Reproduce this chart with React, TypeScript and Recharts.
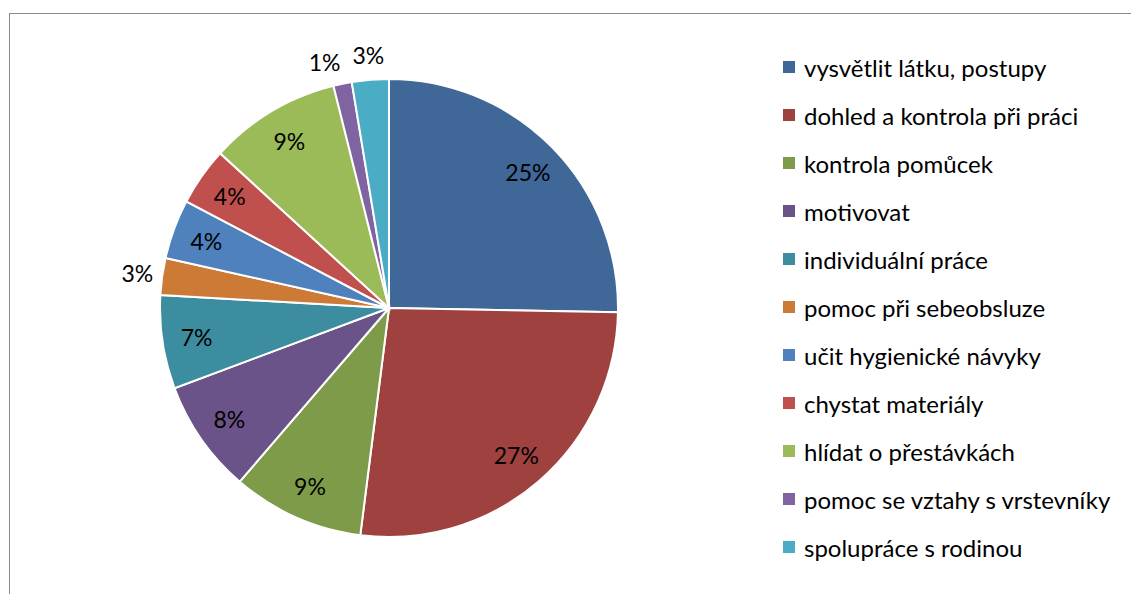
import { PieChart, Pie, Cell } from "recharts";

const categories = [
  "vysvětlit látku, postupy",
  "dohled a kontrola při práci",
  "kontrola pomůcek",
  "motivovat",
  "individuální práce",
  "pomoc při sebeobsluze",
  "učit hygienické návyky",
  "chystat materiály",
  "hlídat o přestávkách",
  "pomoc se vztahy s vrstevníky",
  "spolupráce s rodinou",
];

const shares = [25.3, 26.7, 9.3, 8.0, 6.6, 2.6, 4.2, 4.1, 9.3, 1.3, 2.6];

const colors = [
  "#3F6797",
  "#9E413F",
  "#7E9B49",
  "#6A5388",
  "#3D8DA1",
  "#CD7A37",
  "#4F81BD",
  "#C0504D",
  "#9BBB59",
  "#8064A2",
  "#4BACC6",
];

const data = categories.map((name, i) => ({ name, value: shares[i] }));

const FONT = "Lato, 'Open Sans', sans-serif";
const RAD = Math.PI / 180;

const renderLabel = (props: any) => {
  const { cx, cy, midAngle, outerRadius, percent, index } = props;
  const small = percent < 0.03;
  // outside labels: nudge one away if the next slice also sits outside
  const nextSmall = shares[index + 1] !== undefined && shares[index + 1] < 3;
  const angle = small && nextSmall ? midAngle + 3 : midAngle;
  const r = small ? outerRadius + 25 : outerRadius * 0.85;
  const x = cx + r * Math.cos(-angle * RAD);
  const y = cy + r * Math.sin(-angle * RAD);
  return (
    <text
      x={x}
      y={y}
      textAnchor="middle"
      dominantBaseline="central"
      fill="#000"
      fontSize={23}
      fontFamily={FONT}
    >
      {`${Math.round(percent * 100)}%`}
    </text>
  );
};

export default function App() {
  return (
    <div
      style={{
        position: "fixed",
        left: 0,
        top: 0,
        width: 1131,
        height: 594,
        background: "#fff",
        overflow: "hidden",
      }}
    >
      <div
        style={{
          position: "absolute",
          left: 9,
          top: 13,
          width: 1200,
          height: 700,
          border: "1px solid #8a8a8a",
        }}
      />
      <div style={{ position: "absolute", left: 0, top: 0 }}>
        <PieChart
          width={1131}
          height={594}
          margin={{ top: 0, right: 0, bottom: 0, left: 0 }}
        >
          <Pie
            data={data}
            dataKey="value"
            nameKey="name"
            cx={389}
            cy={308}
            outerRadius={229}
            startAngle={90}
            endAngle={-270}
            stroke="#fff"
            strokeWidth={2}
            label={renderLabel}
            labelLine={false}
            isAnimationActive={false}
          >
            {data.map((d, i) => (
              <Cell key={d.name} fill={colors[i]} />
            ))}
          </Pie>
        </PieChart>
      </div>
      <div
        style={{
          position: "absolute",
          left: 783,
          top: 43,
          fontFamily: FONT,
          fontSize: 24,
          color: "#000",
        }}
      >
        {categories.map((c, i) => (
          <div
            key={c}
            style={{ display: "flex", alignItems: "center", height: 48 }}
          >
            <span
              style={{
                width: 12,
                height: 12,
                background: colors[i],
                marginRight: 9,
                flexShrink: 0,
              }}
            />
            <span style={{ whiteSpace: "nowrap" }}>{c}</span>
          </div>
        ))}
      </div>
    </div>
  );
}
